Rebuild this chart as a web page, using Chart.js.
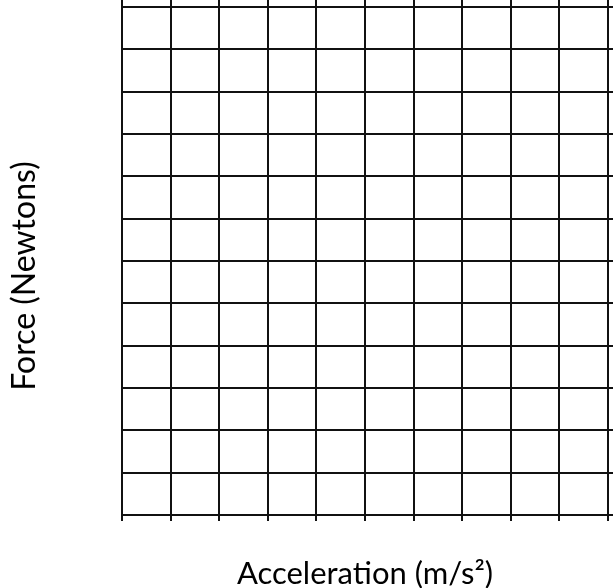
<!DOCTYPE html>
<html>
<head>
<meta charset="utf-8">
<script src="https://cdn.jsdelivr.net/npm/chart.js@4"></script>
<style>
html,body{margin:0;padding:0;background:#fff;}
#wrap{width:613px;height:588px;}
</style>
</head>
<body>
<div id="wrap"><canvas id="c" width="613" height="588"></canvas></div>
<script>
// Blank graph paper: no data points plotted
const xTicks = [0,1,2,3,4,5,6,7,8,9,10];
const yTicks = [0,1,2,3,4,5,6,7,8,9,10,11,12];
const seriesPoints = [];
const xTitle = 'Acceleration (m/s²)';
const yTitle = 'Force (Newtons)';

const lineCol = '#111';
const lw = 2;

function fixTicks(vals){ return function(scale){ scale.ticks = vals.map(v => ({value: v})); }; }

// y-axis title drawn as canvas text, placed where the reference has it
const yTitlePlugin = {
  id: 'yTitle',
  afterDraw(chart) {
    const ctx = chart.ctx;
    ctx.save();
    ctx.translate(25, 276);
    ctx.rotate(-Math.PI / 2);
    ctx.font = '32px Lato';
    ctx.fillStyle = '#000';
    ctx.textAlign = 'center';
    ctx.textBaseline = 'middle';
    ctx.fillText(yTitle, 0, 0);
    ctx.restore();
  }
};

new Chart(document.getElementById('c'), {
  type: 'scatter',
  data: { datasets: [{ data: seriesPoints, showLine: false }] },
  plugins: [yTitlePlugin],
  options: {
    responsive: false,
    animation: false,
    devicePixelRatio: 1,
    layout: { padding: 0 },
    plugins: { legend: {display: false}, tooltip: {enabled: false} },
    scales: {
      x: {
        type: 'linear', position: 'bottom',
        min: xTicks[0], max: xTicks[xTicks.length-1],
        afterBuildTicks: fixTicks(xTicks),
        afterFit: s => { s.height = 73; },
        ticks: { display: false },
        grid: { color: lineCol, lineWidth: lw, tickLength: 6, drawTicks: true },
        border: { color: lineCol, width: lw },
        title: { display: true, text: xTitle, font: {family: 'Lato', size: 31, lineHeight: 0.8}, color: '#000', padding: {top: 0, bottom: 1.5} }
      },
      x2: {
        type: 'linear', position: 'top',
        min: xTicks[0], max: xTicks[xTicks.length-1],
        afterBuildTicks: fixTicks(xTicks),
        afterFit: s => { s.height = 7; },
        ticks: { display: false },
        grid: { color: lineCol, lineWidth: lw, tickLength: 7, drawOnChartArea: false },
        border: { color: lineCol, width: lw }
      },
      y: {
        type: 'linear', position: 'left',
        min: yTicks[0], max: yTicks[yTicks.length-1],
        afterBuildTicks: fixTicks(yTicks),
        afterFit: s => { s.width = 122; },
        ticks: { display: false },
        grid: { color: lineCol, lineWidth: lw, tickLength: 0, drawTicks: false },
        border: { color: lineCol, width: lw }
      },
      y2: {
        type: 'linear', position: 'right',
        min: yTicks[0], max: yTicks[yTicks.length-1],
        afterBuildTicks: fixTicks(yTicks),
        afterFit: s => { s.width = 5; },
        ticks: { display: false },
        grid: { color: lineCol, lineWidth: lw, tickLength: 5, drawOnChartArea: false },
        border: { color: lineCol, width: lw }
      }
    }
  }
});
</script>
</body>
</html>
